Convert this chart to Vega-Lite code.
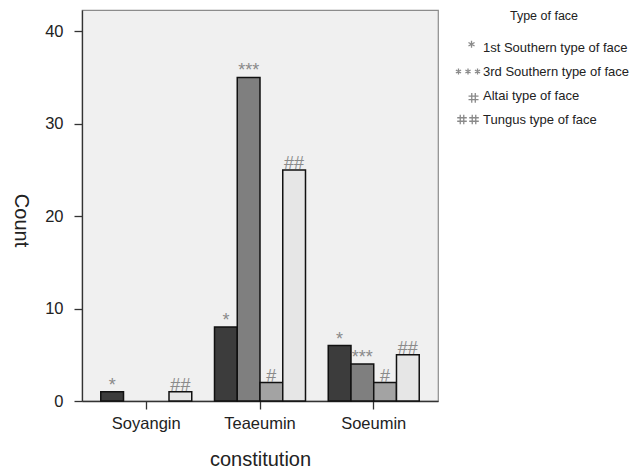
{
  "$schema": "https://vega.github.io/schema/vega-lite/v6.json",
  "width": 356,
  "height": 391,
  "autosize": {"type": "none"},
  "padding": {"left": 82, "top": 10, "right": 193, "bottom": 67},
  "data": {
    "values": [
      {"constitution": "Soyangin", "type": "1st Southern type of face", "count": 1, "label": "*"},
      {"constitution": "Soyangin", "type": "3rd Southern type of face", "count": 0, "label": "***"},
      {"constitution": "Soyangin", "type": "Altai type of face", "count": 0, "label": "#"},
      {"constitution": "Soyangin", "type": "Tungus type of face", "count": 1, "label": "##"},
      {"constitution": "Teaeumin", "type": "1st Southern type of face", "count": 8, "label": "*"},
      {"constitution": "Teaeumin", "type": "3rd Southern type of face", "count": 35, "label": "***"},
      {"constitution": "Teaeumin", "type": "Altai type of face", "count": 2, "label": "#"},
      {"constitution": "Teaeumin", "type": "Tungus type of face", "count": 25, "label": "##"},
      {"constitution": "Soeumin", "type": "1st Southern type of face", "count": 6, "label": "*"},
      {"constitution": "Soeumin", "type": "3rd Southern type of face", "count": 4, "label": "***"},
      {"constitution": "Soeumin", "type": "Altai type of face", "count": 2, "label": "#"},
      {"constitution": "Soeumin", "type": "Tungus type of face", "count": 5, "label": "##"}
    ]
  },
  "encoding": {
    "x": {
      "field": "constitution",
      "type": "nominal",
      "sort": ["Soyangin", "Teaeumin", "Soeumin"],
      "scale": {"paddingInner": 0.2, "paddingOuter": 0.165},
      "axis": {
        "labelAngle": 0,
        "title": "constitution",
        "labelFontSize": 16.5,
        "titleFontSize": 20,
        "titleFontWeight": "normal",
        "tickSize": 8,
        "labelPadding": 6,
        "titleY": 64,
        "titleBaseline": "alphabetic"
      }
    },
    "xOffset": {
      "field": "type",
      "type": "nominal",
      "sort": ["1st Southern type of face", "3rd Southern type of face", "Altai type of face", "Tungus type of face"],
      "scale": {"paddingInner": 0, "paddingOuter": 0}
    },
    "y": {
      "field": "count",
      "type": "quantitative",
      "scale": {"domain": [0, 42.3], "nice": false},
      "axis": {
        "values": [0, 10, 20, 30, 40],
        "title": "Count",
        "titleAngle": 90,
        "labelFontSize": 16.5,
        "titleFontSize": 20,
        "titleFontWeight": "normal",
        "tickSize": 8,
        "labelPadding": 11,
        "titleX": -62,
        "titleY": 210,
        "titleAlign": "center",
        "titleBaseline": "middle",
        "grid": false
      }
    }
  },
  "layer": [
    {
      "transform": [{"filter": "datum.count > 0"}],
      "mark": {"type": "bar", "stroke": "#111111", "strokeWidth": 1.5},
      "encoding": {
        "fill": {
          "field": "type",
          "type": "nominal",
          "scale": {
            "domain": ["1st Southern type of face", "3rd Southern type of face", "Altai type of face", "Tungus type of face"],
            "range": ["#3c3c3c", "#7f7f7f", "#a3a3a3", "#e6e6e6"]
          },
          "legend": {
            "title": "Type of face",
            "titleFontSize": 12.5,
            "titleFontWeight": "normal",
            "titleColor": "#222222",
            "titleAnchor": "middle",
            "titlePadding": 16,
            "labelFontSize": 13,
            "labelColor": "#222222",
            "labelLimit": 300,
            "labelOffset": 6,
            "symbolSize": 256,
            "symbolStrokeColor": "#8a8a8a",
            "symbolFillColor": "transparent",
            "symbolStrokeWidth": 1.3,
            "symbolType": {"expr": "datum.value === '1st Southern type of face' ? 'M0,-1.15M0,1.15M0.44,-0.84L0.44,0.04M0.059,-0.62L0.821,-0.18M0.059,-0.18L0.821,-0.62' : datum.value === '3rd Southern type of face' ? 'M0,-1.15M0,1.15M-1.19,-0.375L-1.19,0.375M-1.515,-0.1875L-0.865,0.1875M-1.515,0.1875L-0.865,-0.1875M0,-0.375L0,0.375M-0.325,-0.1875L0.325,0.1875M-0.325,0.1875L0.325,-0.1875M1.19,-0.375L1.19,0.375M0.865,-0.1875L1.515,0.1875M0.865,0.1875L1.515,-0.1875' : datum.value === 'Altai type of face' ? 'M0,-1.15M0,1.15M0.47,-0.3L0.47,0.9M0.91,-0.3L0.91,0.9M0.065,0.08L1.315,0.08M0.065,0.52L1.315,0.52' : 'M0,-1.15M0,1.15M-0.97,-0.6L-0.97,0.6M-0.53,-0.6L-0.53,0.6M-1.35,-0.22L-0.15,-0.22M-1.35,0.22L-0.15,0.22M0.53,-0.6L0.53,0.6M0.97,-0.6L0.97,0.6M0.15,-0.22L1.35,-0.22M0.15,0.22L1.35,0.22'"},
            "rowPadding": 0,
            "offset": 21,
            "orient": "right"
          }
        }
      }
    },
    {
      "transform": [{"filter": "datum.count > 0"}],
      "mark": {"type": "text", "baseline": "alphabetic", "dy": -1, "fontSize": 18, "color": "#8a8a8a", "font": "Liberation Sans"},
      "encoding": {"text": {"field": "label"}}
    }
  ],
  "config": {
    "font": "Liberation Sans",
    "view": {"stroke": "#8c8c8c", "fill": "#f0f0f0", "strokeWidth": 1.2},
    "axis": {
      "domainColor": "#333333",
      "tickColor": "#333333",
      "labelColor": "#222222",
      "titleColor": "#222222",
      "domainWidth": 1.3,
      "tickWidth": 1.3,
      "labelFont": "Liberation Sans",
      "titleFont": "Liberation Sans"
    },
    "legend": {"labelFont": "Liberation Sans", "titleFont": "Liberation Sans"}
  }
}
